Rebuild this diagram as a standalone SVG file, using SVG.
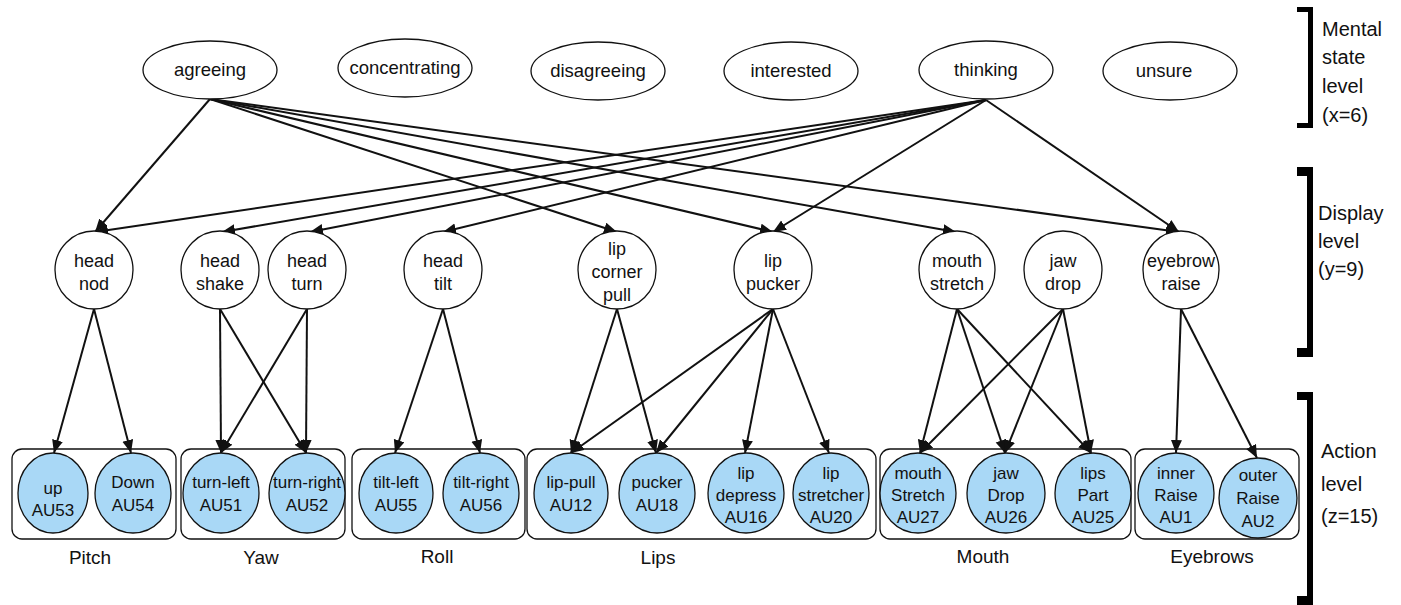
<svg xmlns="http://www.w3.org/2000/svg" width="1401" height="605" viewBox="0 0 1401 605">
  <style>
    text { font-family: "Liberation Sans", Arial, sans-serif; fill: #111; text-anchor: middle; }
    .state ellipse { fill: #fff; stroke: #111; stroke-width: 1.3; }
    .state text { font-size: 18.5px; }
    .disp ellipse { fill: #fff; stroke: #111; stroke-width: 1.3; }
    .disp text { font-size: 18px; }
    .au ellipse { fill: #a9d8f6; stroke: #111; stroke-width: 1.3; }
    .au text { font-size: 17px; }
    .grp rect { fill: none; stroke: #111; stroke-width: 1.3; }
    .grp text { font-size: 19px; }
    .lvl text { font-size: 20px; text-anchor: start; }
    .lvl path { fill: #000; }
    #edges line { stroke: #111; stroke-width: 2; marker-end: url(#arrow); }
  </style>
  <defs>
    <marker id="arrow" markerUnits="userSpaceOnUse" markerWidth="14" markerHeight="12" refX="13" refY="5.5" orient="auto">
      <path d="M0,0 L13,5.5 L0,11 z" fill="#111"/>
    </marker>
  </defs>
  <rect width="1401" height="605" fill="#fff"/>

  <!-- action unit groups -->
  <g id="group-pitch" class="grp"><rect x="12" y="449" width="164" height="90" rx="10"/><text x="90" y="564">Pitch</text></g>
  <g id="group-yaw" class="grp"><rect x="181" y="449" width="164" height="90" rx="10"/><text x="261" y="564">Yaw</text></g>
  <g id="group-roll" class="grp"><rect x="352" y="449" width="173" height="90" rx="10"/><text x="437" y="563">Roll</text></g>
  <g id="group-lips" class="grp"><rect x="527" y="449" width="349" height="90" rx="10"/><text x="658" y="564">Lips</text></g>
  <g id="group-mouth" class="grp"><rect x="880" y="449" width="251" height="90" rx="10"/><text x="983" y="563">Mouth</text></g>
  <g id="group-eyebrows" class="grp"><rect x="1135" y="449" width="164" height="90" rx="10"/><text x="1212" y="563">Eyebrows</text></g>

  <!-- connectors -->
  <g id="edges">
    <!-- mental state to display -->
    <line x1="210" y1="99" x2="95" y2="232"/>
    <line x1="210" y1="99" x2="617" y2="232"/>
    <line x1="210" y1="99" x2="773" y2="232"/>
    <line x1="210" y1="99" x2="956" y2="232"/>
    <line x1="210" y1="99" x2="1179" y2="232"/>
    <line x1="986" y1="100" x2="95" y2="232"/>
    <line x1="986" y1="100" x2="222" y2="232"/>
    <line x1="986" y1="100" x2="310" y2="232"/>
    <line x1="986" y1="100" x2="443" y2="232"/>
    <line x1="986" y1="100" x2="773" y2="232"/>
    <line x1="986" y1="100" x2="1179" y2="232"/>
    <!-- display to action units -->
    <line x1="94" y1="309" x2="54" y2="453"/>
    <line x1="94" y1="309" x2="131" y2="453"/>
    <line x1="220" y1="309" x2="221" y2="453"/>
    <line x1="220" y1="309" x2="306" y2="453"/>
    <line x1="307" y1="309" x2="221" y2="453"/>
    <line x1="307" y1="309" x2="306" y2="453"/>
    <line x1="443" y1="309" x2="395" y2="453"/>
    <line x1="443" y1="309" x2="480" y2="453"/>
    <line x1="617" y1="309" x2="571" y2="453"/>
    <line x1="617" y1="309" x2="656" y2="453"/>
    <line x1="773" y1="309" x2="571" y2="453"/>
    <line x1="773" y1="309" x2="656" y2="453"/>
    <line x1="773" y1="309" x2="745" y2="453"/>
    <line x1="773" y1="309" x2="829" y2="453"/>
    <line x1="957" y1="309" x2="920" y2="453"/>
    <line x1="957" y1="309" x2="1005" y2="453"/>
    <line x1="957" y1="309" x2="1091" y2="453"/>
    <line x1="1063" y1="309" x2="920" y2="453"/>
    <line x1="1063" y1="309" x2="1005" y2="453"/>
    <line x1="1063" y1="309" x2="1091" y2="453"/>
    <line x1="1181" y1="309" x2="1176" y2="453"/>
    <line x1="1181" y1="309" x2="1257" y2="458"/>
  </g>

  <!-- mental state level -->
  <g id="agreeing" class="state"><ellipse cx="210" cy="70" rx="67" ry="29"/><text x="210" y="76">agreeing</text></g>
  <g id="concentrating" class="state"><ellipse cx="405" cy="68" rx="67" ry="29"/><text x="405" y="74">concentrating</text></g>
  <g id="disagreeing" class="state"><ellipse cx="598" cy="71" rx="67" ry="29"/><text x="598" y="77">disagreeing</text></g>
  <g id="interested" class="state"><ellipse cx="791" cy="71" rx="67" ry="29"/><text x="791" y="77">interested</text></g>
  <g id="thinking" class="state"><ellipse cx="986" cy="70" rx="67" ry="29"/><text x="986" y="76">thinking</text></g>
  <g id="unsure" class="state"><ellipse cx="1170" cy="71" rx="67" ry="29"/><text x="1164" y="77">unsure</text></g>

  <!-- display level -->
  <g id="head-nod" class="disp"><ellipse cx="94" cy="270" rx="39" ry="39"/><text x="94" y="267">head</text><text x="94" y="290">nod</text></g>
  <g id="head-shake" class="disp"><ellipse cx="220" cy="270" rx="39" ry="39"/><text x="220" y="267">head</text><text x="220" y="290">shake</text></g>
  <g id="head-turn" class="disp"><ellipse cx="307" cy="270" rx="39" ry="39"/><text x="307" y="267">head</text><text x="307" y="290">turn</text></g>
  <g id="head-tilt" class="disp"><ellipse cx="443" cy="270" rx="39" ry="39"/><text x="443" y="267">head</text><text x="443" y="290">tilt</text></g>
  <g id="lip-corner-pull" class="disp"><ellipse cx="617" cy="270" rx="39" ry="39"/><text x="617" y="255">lip</text><text x="617" y="278">corner</text><text x="617" y="301">pull</text></g>
  <g id="lip-pucker" class="disp"><ellipse cx="773" cy="270" rx="39" ry="39"/><text x="773" y="267">lip</text><text x="773" y="290">pucker</text></g>
  <g id="mouth-stretch" class="disp"><ellipse cx="957" cy="270" rx="38" ry="39"/><text x="957" y="267">mouth</text><text x="957" y="290">stretch</text></g>
  <g id="jaw-drop" class="disp"><ellipse cx="1063" cy="270" rx="39" ry="39"/><text x="1063" y="267">jaw</text><text x="1063" y="290">drop</text></g>
  <g id="eyebrow-raise" class="disp"><ellipse cx="1181" cy="270" rx="38" ry="39"/><text x="1181" y="267">eyebrow</text><text x="1181" y="290">raise</text></g>

  <!-- action level -->
  <g id="au53" class="au"><ellipse cx="53" cy="493" rx="35" ry="40"/><text x="53" y="494">up</text><text x="53" y="516">AU53</text></g>
  <g id="au54" class="au"><ellipse cx="133" cy="493" rx="38" ry="40"/><text x="133" y="488">Down</text><text x="133" y="511">AU54</text></g>
  <g id="au51" class="au"><ellipse cx="221" cy="493" rx="38" ry="40"/><text x="221" y="488">turn-left</text><text x="221" y="511">AU51</text></g>
  <g id="au52" class="au"><ellipse cx="307" cy="493" rx="38" ry="40"/><text x="307" y="488">turn-right</text><text x="307" y="511">AU52</text></g>
  <g id="au55" class="au"><ellipse cx="396" cy="493" rx="37" ry="40"/><text x="396" y="488">tilt-left</text><text x="396" y="511">AU55</text></g>
  <g id="au56" class="au"><ellipse cx="481" cy="493" rx="38" ry="40"/><text x="481" y="488">tilt-right</text><text x="481" y="511">AU56</text></g>
  <g id="au12" class="au"><ellipse cx="571" cy="493" rx="37" ry="40"/><text x="571" y="488">lip-pull</text><text x="571" y="511">AU12</text></g>
  <g id="au18" class="au"><ellipse cx="657" cy="493" rx="38" ry="40"/><text x="657" y="488">pucker</text><text x="657" y="511">AU18</text></g>
  <g id="au16" class="au"><ellipse cx="746" cy="493" rx="38" ry="40"/><text x="746" y="479">lip</text><text x="746" y="501">depress</text><text x="746" y="523">AU16</text></g>
  <g id="au20" class="au"><ellipse cx="831" cy="493" rx="38" ry="40"/><text x="831" y="479">lip</text><text x="831" y="501">stretcher</text><text x="831" y="523">AU20</text></g>
  <g id="au27" class="au"><ellipse cx="918" cy="493" rx="38" ry="40"/><text x="918" y="479">mouth</text><text x="918" y="501">Stretch</text><text x="918" y="523">AU27</text></g>
  <g id="au26" class="au"><ellipse cx="1006" cy="493" rx="39" ry="40"/><text x="1006" y="479">jaw</text><text x="1006" y="501">Drop</text><text x="1006" y="523">AU26</text></g>
  <g id="au25" class="au"><ellipse cx="1093" cy="493" rx="38" ry="40"/><text x="1093" y="479">lips</text><text x="1093" y="501">Part</text><text x="1093" y="523">AU25</text></g>
  <g id="au1" class="au"><ellipse cx="1176" cy="493" rx="38" ry="40"/><text x="1176" y="479">inner</text><text x="1176" y="501">Raise</text><text x="1176" y="523">AU1</text></g>
  <g id="au2" class="au"><ellipse cx="1258" cy="498" rx="39" ry="40"/><text x="1258" y="481">outer</text><text x="1258" y="504">Raise</text><text x="1258" y="527">AU2</text></g>

  <!-- level brackets and captions -->
  <g id="level-mental" class="lvl">
    <path d="M1297,7 H1313 V128 H1297 V123 H1308 V12 H1297 Z"/>
    <text x="1322" y="36">Mental</text><text x="1322" y="64">state</text><text x="1322" y="93">level</text><text x="1322" y="122">(x=6)</text>
  </g>
  <g id="level-display" class="lvl">
    <path d="M1297,167 H1313 V357 H1297 V348 H1307 V176 H1297 Z"/>
    <text x="1318" y="220">Display</text><text x="1318" y="248">level</text><text x="1318" y="276">(y=9)</text>
  </g>
  <g id="level-action" class="lvl">
    <path d="M1297,392 H1313 V605 H1297 V596 H1307 V400 H1297 Z"/>
    <text x="1321" y="458">Action</text><text x="1321" y="491">level</text><text x="1321" y="523">(z=15)</text>
  </g>
</svg>
